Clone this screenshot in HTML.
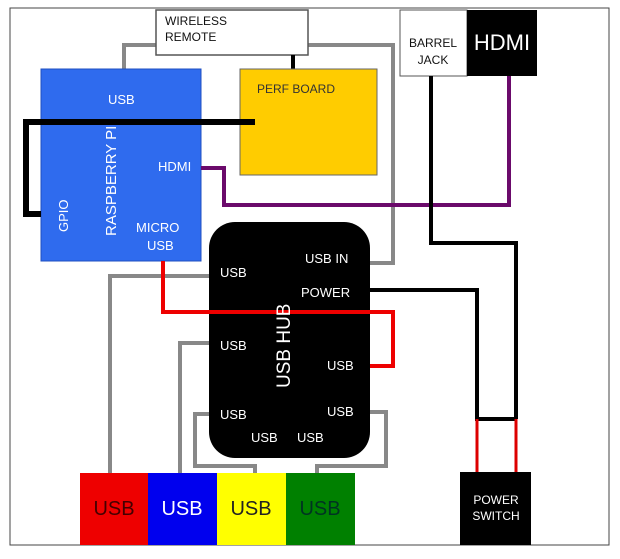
<!DOCTYPE html>
<html><head><style>
body{margin:0;background:#fff;}
svg text{font-family:"Liberation Sans",Arial,sans-serif;}
</style></head><body>
<svg width="620" height="554" viewBox="0 0 620 554" xmlns="http://www.w3.org/2000/svg">
<rect x="10" y="8" width="599" height="537" fill="#fff" stroke="#444" stroke-width="1"/>
<!-- gray wire pi usb to hub usb in -->
<polyline points="124,69 124,45 393,45 393,263 370,263" fill="none" stroke="#888" stroke-width="4"/>
<!-- wireless remote -->
<rect x="156" y="10" width="152" height="45" fill="#fff" stroke="#555" stroke-width="1.5"/>
<text x="165" y="25" font-size="12" fill="#111">WIRELESS</text>
<text x="165" y="41" font-size="12" fill="#111">REMOTE</text>
<line x1="293" y1="55" x2="293" y2="74" stroke="#000" stroke-width="4"/>
<!-- pi -->
<rect x="41" y="69" width="160" height="192" fill="#2f6bee" stroke="#1f4fc0" stroke-width="1"/>
<!-- perf -->
<rect x="240" y="69" width="137" height="106" fill="#ffcc00" stroke="#666" stroke-width="1"/>
<text x="257" y="93" font-size="12" fill="#333">PERF BOARD</text>
<!-- black gpio wire -->
<polyline points="255,122 26,122 26,214 41,214" fill="none" stroke="#000" stroke-width="6"/>
<text x="108" y="104" font-size="13" fill="#fff">USB</text>
<text x="158" y="171" font-size="13" fill="#fff">HDMI</text>
<text x="136" y="232" font-size="13" fill="#fff">MICRO</text>
<text x="147" y="250" font-size="13" fill="#fff">USB</text>
<text transform="translate(68,232) rotate(-90)" font-size="13" fill="#fff">GPIO</text>
<text transform="translate(116,236) rotate(-90)" font-size="15" fill="#fff">RASPBERRY PI</text>
<!-- purple -->
<polyline points="201,168 224,168 224,205 509,205 509,76" fill="none" stroke="#6b0a6b" stroke-width="4"/>
<!-- barrel + hdmi -->
<rect x="400" y="10" width="67" height="66" fill="#fff" stroke="#555" stroke-width="1"/>
<rect x="467" y="10" width="70" height="66" fill="#000"/>
<text x="433" y="47" font-size="12" text-anchor="middle" fill="#111">BARREL</text>
<text x="433" y="64" font-size="12" text-anchor="middle" fill="#111" dy="-0">JACK</text>
<text x="502" y="50" font-size="22" text-anchor="middle" fill="#fff">HDMI</text>
<!-- black power wires -->
<polyline points="431,76 431,243 516,243 516,419" fill="none" stroke="#000" stroke-width="4"/>
<polyline points="370,290 477,290 477,419 516,419" fill="none" stroke="#000" stroke-width="4"/>
<line x1="477" y1="419" x2="477" y2="472" stroke="#d00" stroke-width="3"/>
<line x1="516" y1="419" x2="516" y2="472" stroke="#d00" stroke-width="3"/>
<rect x="460" y="472" width="71" height="73" fill="#000"/>
<text x="496" y="504" font-size="12" text-anchor="middle" fill="#fff">POWER</text>
<text x="496" y="520" font-size="12" text-anchor="middle" fill="#fff">SWITCH</text>
<!-- gray hub wires -->
<polyline points="210,276 110,276 110,473" fill="none" stroke="#888" stroke-width="4"/>
<polyline points="210,343 180,343 180,473" fill="none" stroke="#888" stroke-width="4"/>
<polyline points="210,414 195,414 195,466 255,466 255,473" fill="none" stroke="#888" stroke-width="4"/>
<polyline points="368,412 386,412 386,466 317,466 317,473" fill="none" stroke="#888" stroke-width="4"/>
<!-- hub -->
<rect x="209" y="222" width="161" height="236" rx="26" fill="#000"/>
<!-- red wire -->
<polyline points="163,261 163,312 393,312 393,366 370,366" fill="none" stroke="#e00" stroke-width="4"/>
<text x="305" y="263" font-size="13" fill="#fff">USB IN</text>
<text x="220" y="277" font-size="13" fill="#fff">USB</text>
<text x="301" y="297" font-size="13" fill="#fff">POWER</text>
<text transform="translate(290,388) rotate(-90)" font-size="19" fill="#fff">USB HUB</text>
<text x="220" y="350" font-size="13" fill="#fff">USB</text>
<text x="327" y="370" font-size="13" fill="#fff">USB</text>
<text x="220" y="419" font-size="13" fill="#fff">USB</text>
<text x="327" y="416" font-size="13" fill="#fff">USB</text>
<text x="251" y="442" font-size="13" fill="#fff">USB</text>
<text x="297" y="442" font-size="13" fill="#fff">USB</text>
<!-- bottom boxes -->
<rect x="80" y="473" width="68" height="72" fill="#ee0000"/>
<rect x="148" y="473" width="69" height="72" fill="#0000ee"/>
<rect x="217" y="473" width="69" height="72" fill="#ffff00"/>
<rect x="286" y="473" width="69" height="72" fill="#008000"/>
<text x="114" y="515" font-size="20" text-anchor="middle" fill="#400">USB</text>
<text x="182" y="515" font-size="20" text-anchor="middle" fill="#fff">USB</text>
<text x="251" y="515" font-size="20" text-anchor="middle" fill="#222">USB</text>
<text x="320" y="515" font-size="20" text-anchor="middle" fill="#032">USB</text>
</svg>
</body></html>
